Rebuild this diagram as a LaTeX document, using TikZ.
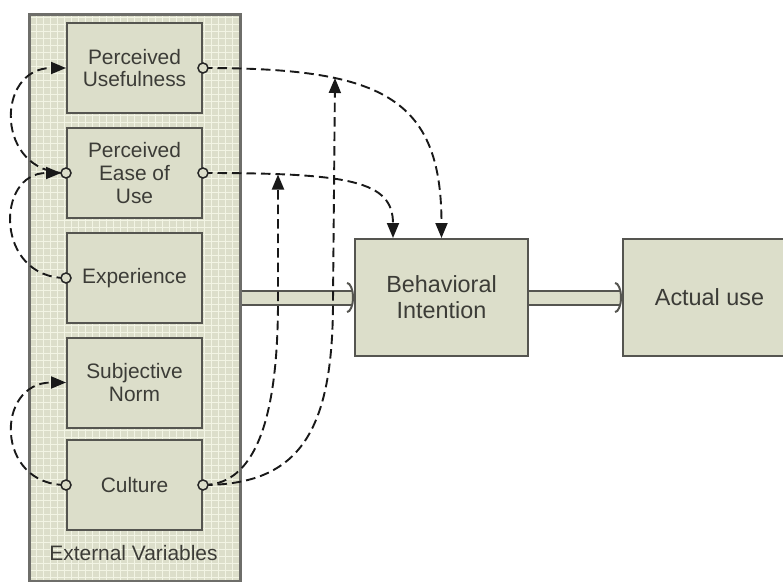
\documentclass[tikz,border=0pt]{standalone}
\usepackage{fontspec}
\setmainfont{Liberation Sans}
\usetikzlibrary{arrows.meta,calc}

\definecolor{boxfill}{RGB}{220,222,202}
\definecolor{edgegray}{RGB}{85,85,80}
\definecolor{textgray}{RGB}{60,60,55}
\definecolor{gridwhite}{RGB}{242,244,228}

\tikzset{
    varbox/.style={draw=edgegray, fill=boxfill, line width=0.04cm, minimum width=2.7cm,
        minimum height=1.8cm, inner sep=0pt, align=center, text=textgray,
        font=\fontsize{11.9}{13}\selectfont},
    bigbox/.style={varbox, minimum width=3.46cm, minimum height=2.34cm,
        font=\fontsize{13.3}{14.8}\selectfont},
    container/.style={draw=edgegray!85, fill=boxfill, line width=0.06cm, minimum width=4.22cm,
        minimum height=11.34cm, inner sep=0pt,
        path picture={\draw[gridwhite, line width=0.014cm, step=0.14cm]
            (path picture bounding box.south west) grid (path picture bounding box.north east);}},
    link/.style={dash pattern=on 0.19cm off 0.1cm, line width=0.038cm, draw=black!90,
        -{Triangle[length=0.3cm,width=0.24cm]}},
    flow/.style={double=boxfill, double distance=0.24cm, line width=0.04cm, draw=edgegray,
        -{Arc Barb[length=0.14cm,width=0.62cm,line width=0.04cm]}},
}

\begin{document}
\begin{tikzpicture}
    \clip (0,0) rectangle (15.66,11.62);

    % External variables
    \node[container] (ext) at (2.69,5.67) {};
    \node[text=textgray, font=\fontsize{11.9}{13}\selectfont] (extlabel) at (2.67,0.56) {External Variables};

    \node[varbox] (pu) at (2.69,10.26) {Perceived\\Usefulness};
    \node[varbox] (peou) at (2.69,8.16) {Perceived\\Ease of\\Use};
    \node[varbox] (exp) at (2.69,6.06) {Experience};
    \node[varbox] (sn) at (2.69,3.97) {Subjective\\Norm};
    \node[varbox] (cult) at (2.69,1.92) {Culture};

    % Intention and use
    \node[bigbox] (bi) at (8.83,5.67) {Behavioral\\Intention};
    \node[bigbox] (au) at (14.19,5.67) {Actual use};

    \draw[flow] (ext.east) -- (bi.west);
    \draw[flow] (bi.east) -- (au.west);

    % Hit points of the dashed links
    \coordinate (bileft) at ($(bi.north)+(-0.97,0)$);
    \coordinate (peouhit) at (5.56,8.13);
    \coordinate (puhit) at (6.70,10.06);
    \coordinate (peouin) at ($(peou.west)+(-0.1,0)$);

    % Dashed links
    \draw[link] (pu.east) .. controls (7.6,10.26) and (8.83,9.7) .. (bi.north);
    \draw[link] (peou.east) .. controls (7.0,8.16) and (7.86,8.0) .. (bileft);
    \draw[link] (cult.east) .. controls (5.2,1.92) and (5.56,3.5) .. (5.56,5.6) -- (peouhit);
    \draw[link] (cult.east) .. controls (6.0,1.92) and (6.66,3.0) .. (6.66,5.6) -- (puhit);

    \draw[link] (exp.west) .. controls (-0.1,6.06) and (-0.1,8.16) .. (peouin);
    \draw[link] (peou.west) .. controls (-0.1,8.16) and (-0.1,10.26) .. (pu.west);
    \draw[link] (cult.west) .. controls (-0.1,1.92) and (-0.1,3.97) .. (sn.west);

    % Ports
    \foreach \p in {pu.east, peou.east, peou.west, exp.west, cult.east, cult.west}
        \filldraw[draw=black!85, fill=boxfill, line width=0.03cm] (\p) circle (0.1cm);
\end{tikzpicture}
\end{document}
